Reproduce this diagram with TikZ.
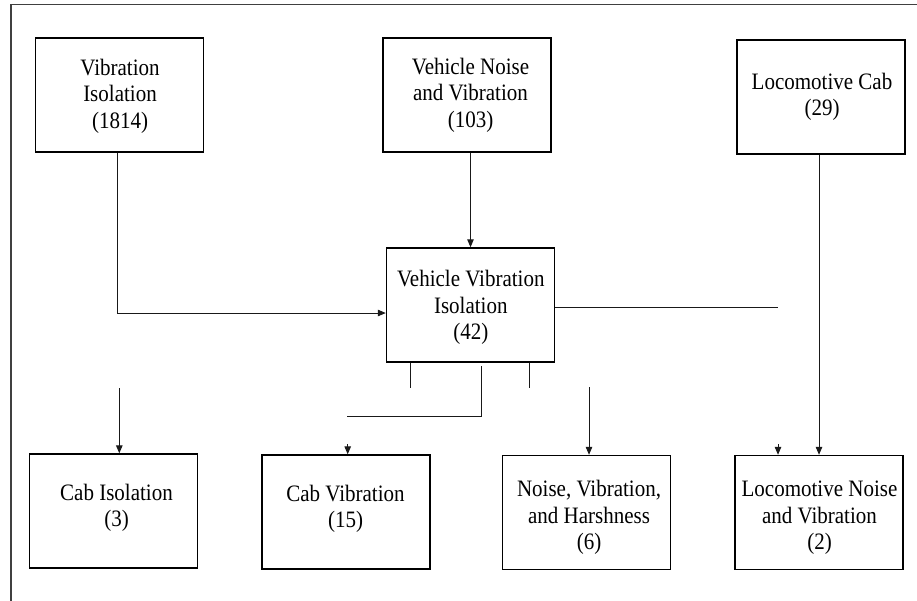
\documentclass[tikz,border=0pt]{standalone}
\usepackage{fontspec}
\setmainfont{Liberation Serif}
\usetikzlibrary{arrows.meta}
\begin{document}
\begin{tikzpicture}[x=1pt,y=-1pt,
  box/.style={draw=black, line width=1.4pt, minimum width=168pt, minimum height=114pt,
    inner sep=0pt},
  txt/.style={anchor=base, inner sep=0pt, align=center, yscale=1.12, transform shape,
    font=\fontsize{21}{23.6}\selectfont},
  conn/.style={draw=black!90, line width=1pt},
  arr/.style={conn, -{Triangle[length=8pt,width=6.5pt]}}]
\useasboundingbox (0,0) rectangle (917,600);
% outer frame (top and left only visible)
\coordinate (f1) at (925,4.5);
\coordinate (f2) at (11,4.5);
\coordinate (f3) at (11,605);
\draw[draw=black!75, line width=1.2pt] (f1) -- (f2) -- (f3);
% boxes
\node[box] (vi)  at (119.5,95)  {};
\node[box] (vnv) at (467,95)    {};
\node[box] (lc)  at (821,97)    {};
\node[box] (vvi) at (470.5,305) {};
\node[box] (ci)  at (113.5,511) {};
\node[box] (cv)  at (346,512)   {};
\node[box] (nvh) at (586.5,512.5) {};
\node[box] (lnv) at (819,512.5) {};
% texts (anchored at the baseline of the last line)
\node[txt] (vi-t)  at (120,128)    {Vibration\\Isolation\\(1814)};
\node[txt] (vnv-t) at (470.5,127)  {Vehicle Noise\\and Vibration\\(103)};
\node[txt] (lc-t)  at (822,115.5)  {Locomotive Cab\\(29)};
\node[txt] (vvi-t) at (470.8,339.5) {Vehicle Vibration\\Isolation\\(42)};
\node[txt] (ci-t)  at (116.5,526.5) {Cab Isolation\\(3)};
\node[txt] (cv-t)  at (345.5,527.5) {Cab Vibration\\(15)};
\node[txt] (nvh-t) at (589,549.5)   {Noise, Vibration,\\and Harshness\\(6)};
\node[txt] (lnv-t) at (819.5,549.5) {Locomotive Noise\\and Vibration\\(2)};
% connectors
\draw[arr] ([xshift=-2.5pt]vi.south) |- ([yshift=-8pt]vvi.west);
\draw[arr] (vvi.north |- vnv.south) -- (vvi.north);
\coordinate (c2) at (778,307);
\draw[conn] (vvi.east |- c2) -- (c2);
\draw[arr] ([xshift=-2pt]lc.south) -- ([xshift=-2pt]lc.south |- lnv.north);
\coordinate (s1) at (778,444);
\draw[arr] (s1) -- (s1 |- lnv.north);
\coordinate (t1) at (410,388);
\coordinate (t2) at (529.3,388);
\draw[conn] (t1 |- vvi.south) -- (t1);
\draw[conn] (t2 |- vvi.south) -- (t2);
\coordinate (l1) at (481.7,366);
\coordinate (l2) at (346.7,416.7);
\draw[conn] (l1) |- (l2);
\coordinate (s2) at (347.7,444);
\draw[arr] (s2) -- (s2 |- cv.north);
\coordinate (a1) at (119.3,388);
\draw[arr] (a1) -- (a1 |- ci.north);
\coordinate (a2) at (589,387);
\draw[arr] (a2) -- (a2 |- nvh.north);
\end{tikzpicture}
\end{document}
